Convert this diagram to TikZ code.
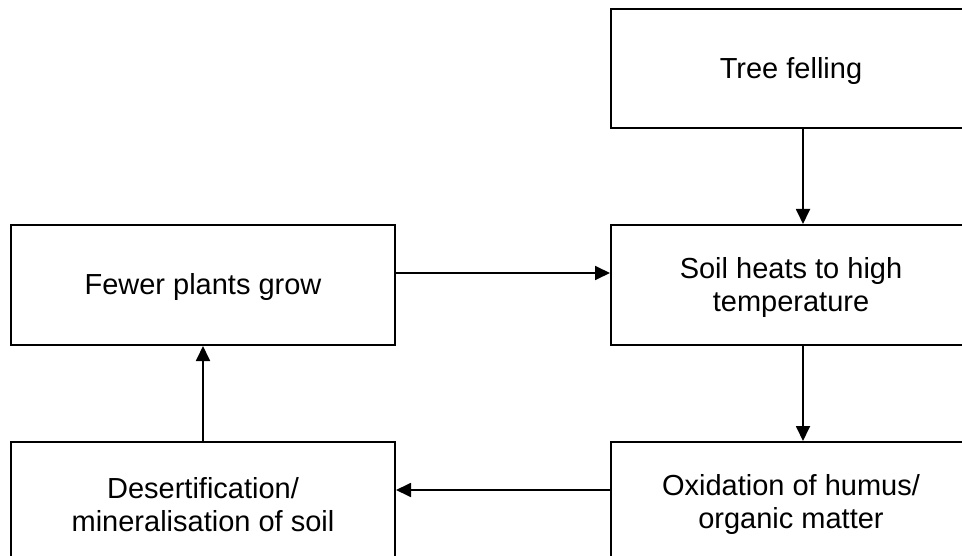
\documentclass[tikz,border=0pt]{standalone}
\usepackage{fontspec}
\setmainfont{Liberation Sans}
\usetikzlibrary{arrows.meta}
\newcommand\lnstrut{\rule[-1pt]{0pt}{27pt}}
\begin{document}
\begin{tikzpicture}[x=1pt,y=-1pt,
  box/.style={draw=black,line width=2pt,minimum height=120pt,inner sep=0pt,
    align=center,anchor=north west,font=\fontsize{29}{33}\selectfont},
  rbox/.style={box,minimum width=360pt},
  lbox/.style={box,minimum width=384pt},
  arr/.style={line width=1.8pt,-{Triangle[length=15pt,width=14pt]}}]
\useasboundingbox (0,0) rectangle (962,556);
\clip (0,0) rectangle (962,556);
\node[rbox,minimum height=119pt] (tree) at (610,8) {\lnstrut Tree felling};
\node[rbox] (soil) at (610,224) {\lnstrut Soil heats to high\\\lnstrut temperature};
\node[rbox] (ox) at (610,441) {\lnstrut Oxidation of humus/\\\lnstrut organic matter};
\node[lbox] (fewer) at (10,224) {\lnstrut Fewer plants grow};
\node[lbox] (desert) at (10,441) {\lnstrut Desertification/\\\lnstrut mineralisation of soil};
\draw[arr] ([xshift=12pt]tree.south) -- ([xshift=12pt]soil.north);
\draw[arr] ([xshift=12pt]soil.south) -- ([xshift=12pt]ox.north);
\draw[arr] ([yshift=12pt]ox.west) -- ([yshift=12pt]desert.east);
\draw[arr] (desert.north) -- (fewer.south);
\draw[arr] ([yshift=12pt]fewer.east) -- ([yshift=12pt]soil.west);
\end{tikzpicture}
\end{document}
